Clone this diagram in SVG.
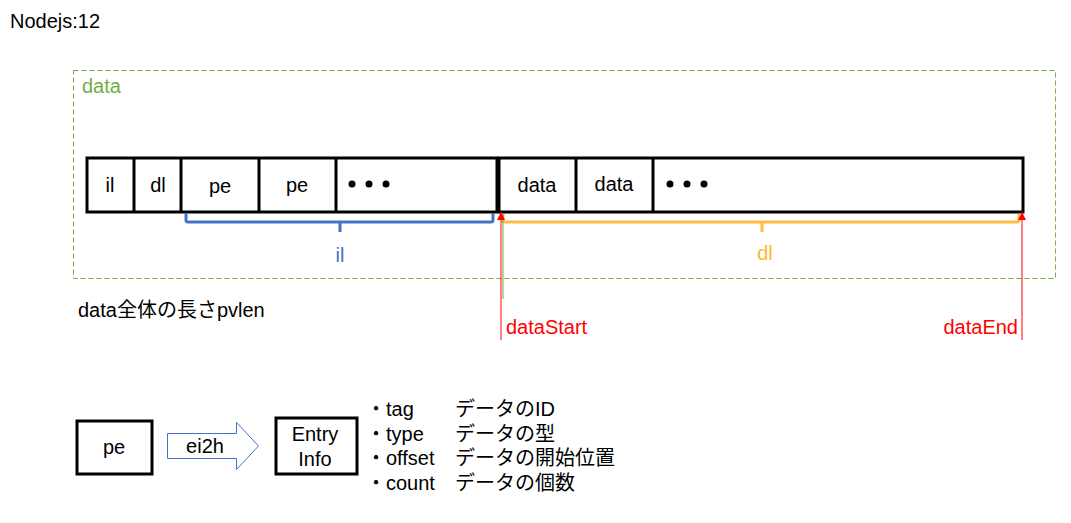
<svg xmlns="http://www.w3.org/2000/svg" width="1071" height="523" viewBox="0 0 1071 523">
<style>
text{font-family:"Liberation Sans","Noto Sans CJK JP",sans-serif;font-size:20px;fill:#000}
.cell{fill:#fff;stroke:#000;stroke-width:3}
.c{text-anchor:middle}
.red{fill:#ff0000}
</style>
<defs>
<marker id="ah" viewBox="0 0 10 10" refX="10" refY="5" markerWidth="9" markerHeight="8" markerUnits="userSpaceOnUse" orient="auto">
<path d="M0,0 L10,5 L0,10 Z" fill="#ff0000"/>
</marker>
</defs>
<rect width="1071" height="523" fill="#fff"/>
<text x="10" y="28">Nodejs:12</text>
<g id="dataArea">
<rect x="73.5" y="70.5" width="982" height="208" fill="none" stroke="#70ad47" stroke-width="1" stroke-dasharray="5,3"/>
<text x="82" y="93" style="fill:#70ad47">data</text>
</g>
<g id="header">
<rect class="cell" x="87" y="158" width="410" height="54"/>
<line x1="134" y1="158" x2="134" y2="212" stroke="#000" stroke-width="3"/>
<line x1="181" y1="158" x2="181" y2="212" stroke="#000" stroke-width="3"/>
<line x1="259" y1="158" x2="259" y2="212" stroke="#000" stroke-width="3"/>
<line x1="336" y1="158" x2="336" y2="212" stroke="#000" stroke-width="3"/>
<text class="c" x="110" y="192">il</text>
<text class="c" x="158" y="192">dl</text>
<text class="c" x="220" y="193">pe</text>
<text class="c" x="297" y="192">pe</text>
<circle cx="352" cy="184" r="3.5"/><circle cx="369" cy="184" r="3.5"/><circle cx="386" cy="184" r="3.5"/>
</g>
<g id="body">
<rect class="cell" x="499" y="158" width="524" height="54"/>
<line x1="576" y1="158" x2="576" y2="212" stroke="#000" stroke-width="3"/>
<line x1="653" y1="158" x2="653" y2="212" stroke="#000" stroke-width="3"/>
<text class="c" x="537" y="192">data</text>
<text class="c" x="614" y="191">data</text>
<circle cx="670" cy="184" r="3.5"/><circle cx="687" cy="184" r="3.5"/><circle cx="704" cy="184" r="3.5"/>
</g>
<g id="connectors">
<path d="M186,213 V220 Q186,222 188,222 H491 Q493,222 493,220 V213 M340,222 V232" fill="none" stroke="#4472c4" stroke-width="3"/>
<path d="M503,214 V220 Q503,222 505,222 H1017 Q1019,222 1019,220 V214 M762,222 V232" fill="none" stroke="#ffb52e" stroke-width="3" stroke-opacity="0.9"/>
<line x1="503" y1="214" x2="503" y2="299" stroke="#70ad47" stroke-width="1"/>
<line x1="501" y1="340" x2="501" y2="212" stroke="#ff0000" stroke-width="1" marker-end="url(#ah)"/>
<line x1="1022" y1="340" x2="1022" y2="212" stroke="#ff0000" stroke-width="1" marker-end="url(#ah)"/>
</g>
<text class="c" x="340" y="262" style="fill:#4472c4">il</text>
<text class="c" x="765" y="260" style="fill:#ffb52e">dl</text>
<text class="red" x="506" y="334">dataStart</text>
<text class="red" x="1018" y="334" text-anchor="end">dataEnd</text>
<text x="78" y="317">data全体の長さpvlen</text>
<g id="pe">
<rect class="cell" x="77" y="421" width="75" height="53"/>
<text class="c" x="114" y="454">pe</text>
</g>
<g id="ei2h">
<path d="M167.5,433.5 H236.5 V422.5 L258.5,446 L236.5,469.5 V458.5 H167.5 Z" fill="#fff" stroke="#4472c4" stroke-width="1"/>
<text class="c" x="205" y="453">ei2h</text>
</g>
<g id="entryInfo">
<rect class="cell" x="276" y="418" width="81" height="56"/>
<text class="c" x="315" y="441" font-size="19">Entry</text>
<text class="c" x="315" y="466" font-size="19">Info</text>
</g>
<g id="fields">
<text x="366" y="416">・tag</text><text x="455" y="416">データのID</text>
<text x="366" y="441">・type</text><text x="455" y="441">データの型</text>
<text x="366" y="465">・offset</text><text x="455" y="465">データの開始位置</text>
<text x="366" y="490">・count</text><text x="455" y="490">データの個数</text>
</g>
</svg>
